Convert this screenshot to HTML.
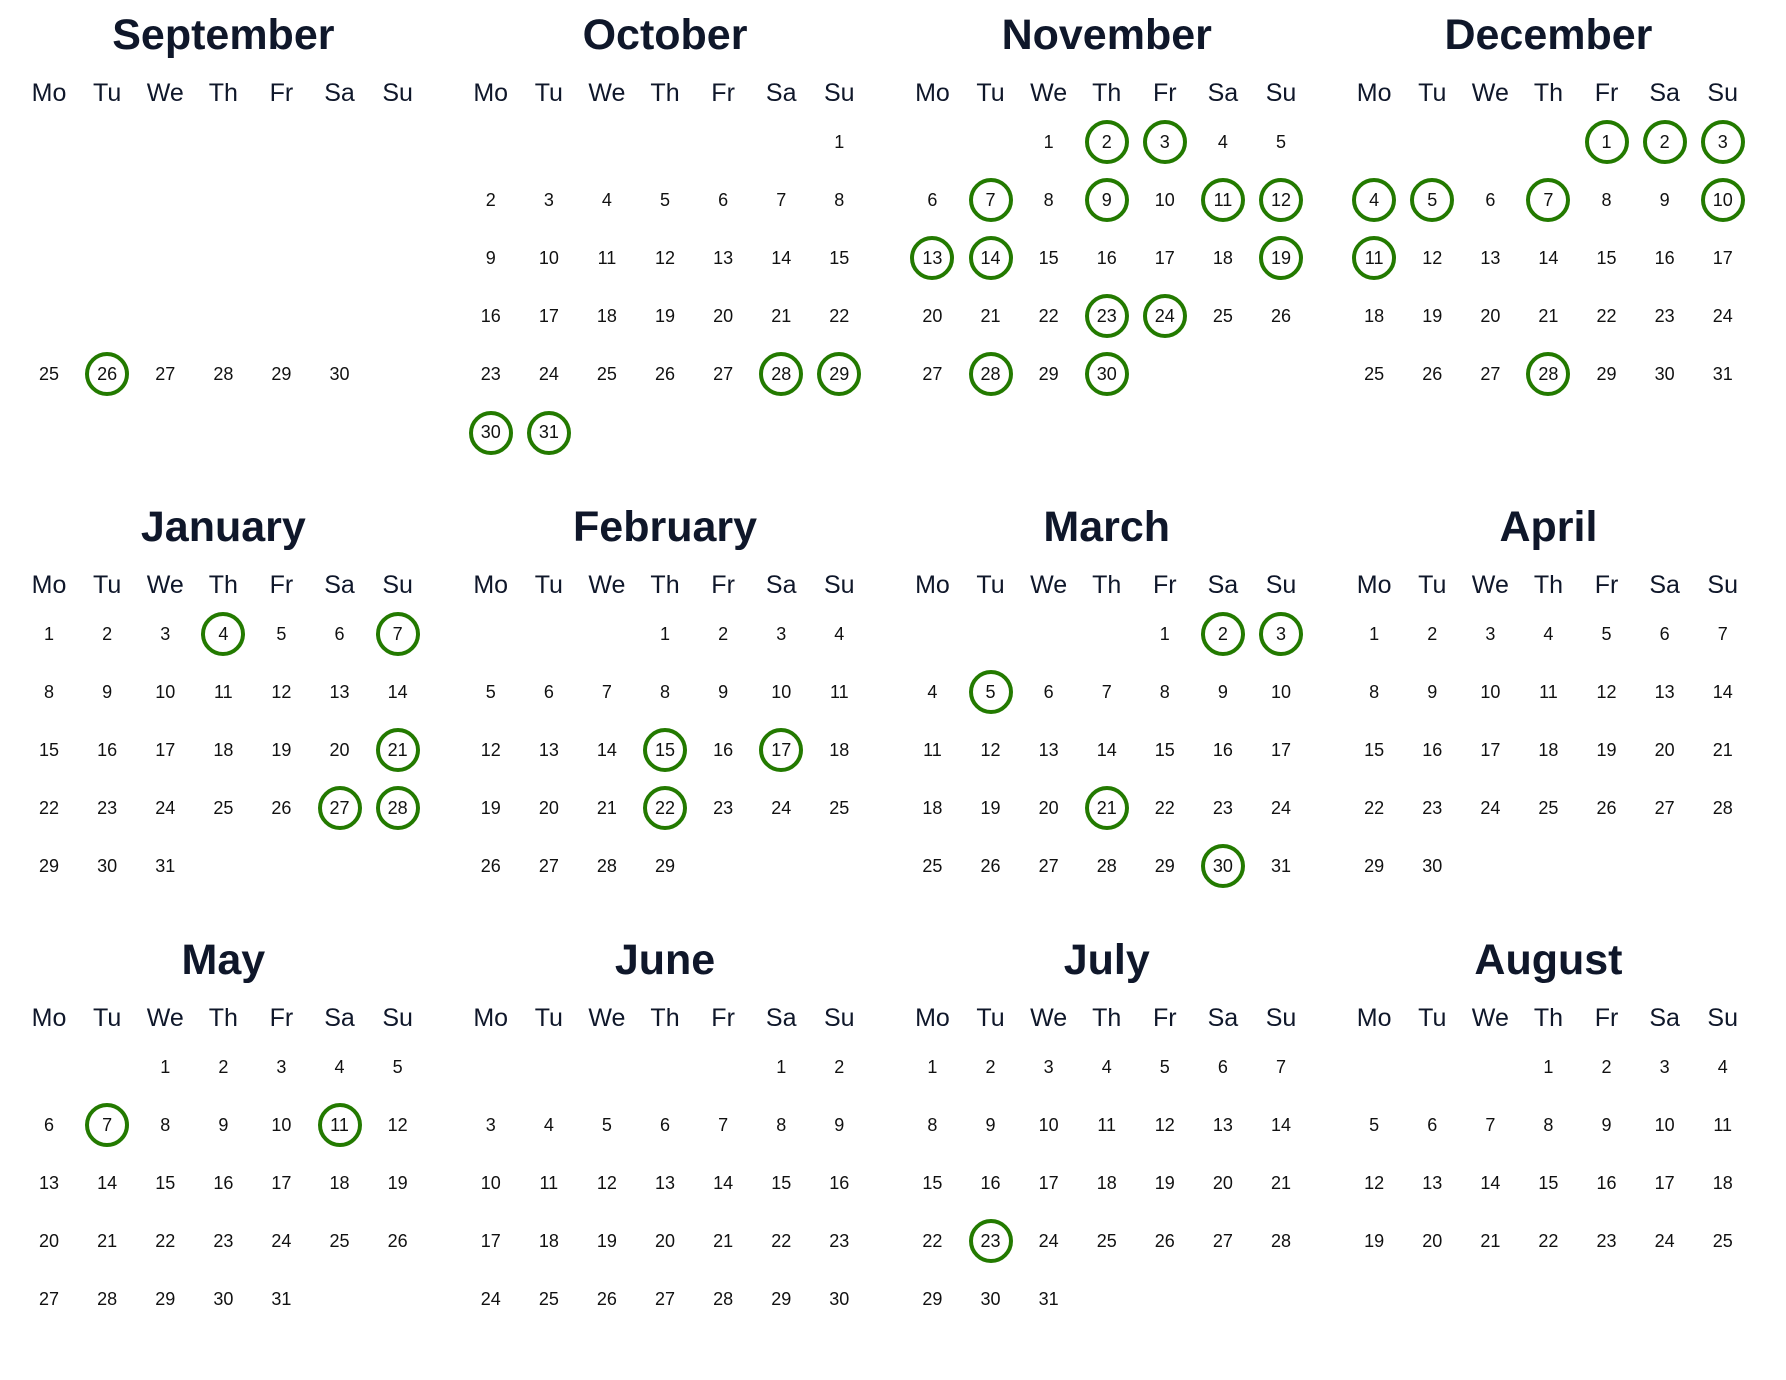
<!DOCTYPE html>
<html>
<head>
<meta charset="utf-8">
<style>
html,body{margin:0;padding:0;background:#fff;}
body{width:1786px;height:1380px;position:relative;overflow:hidden;font-family:"Liberation Sans",Arial,sans-serif;}
.m{position:absolute;width:406.7px;}
.t{height:70px;line-height:70px;font-size:43px;font-weight:bold;color:#0f172a;text-align:center;white-space:nowrap;}
.h{display:grid;grid-template-columns:repeat(7,58.1px);height:43px;line-height:47px;font-size:25px;color:#0f172a;text-align:center;overflow:visible;}
.g{display:grid;grid-template-columns:repeat(7,58.1px);grid-auto-rows:58.1px;font-size:18px;color:#111;text-align:center;line-height:58.1px;}
.g span{position:relative;display:block;}
.g span.c::before{content:"";position:absolute;left:50%;top:50%;width:36px;height:36px;margin-left:-22px;margin-top:-22px;border:4px solid #237a00;border-radius:50%;}
</style>
</head>
<body>

<!-- September -->
<div class="m" style="left:20px;top:0px;">
<div class="t">September</div>
<div class="h"><span>Mo</span><span>Tu</span><span>We</span><span>Th</span><span>Fr</span><span>Sa</span><span>Su</span></div>
<div class="g" style="margin-top:232.4px;">
<span>25</span><span class="c">26</span><span>27</span><span>28</span><span>29</span><span>30</span>
</div>
</div>

<!-- October -->
<div class="m" style="left:461.7px;top:0px;">
<div class="t">October</div>
<div class="h"><span>Mo</span><span>Tu</span><span>We</span><span>Th</span><span>Fr</span><span>Sa</span><span>Su</span></div>
<div class="g">
<span style="grid-column-start:7">1</span>
<span>2</span><span>3</span><span>4</span><span>5</span><span>6</span><span>7</span><span>8</span>
<span>9</span><span>10</span><span>11</span><span>12</span><span>13</span><span>14</span><span>15</span>
<span>16</span><span>17</span><span>18</span><span>19</span><span>20</span><span>21</span><span>22</span>
<span>23</span><span>24</span><span>25</span><span>26</span><span>27</span><span class="c">28</span><span class="c">29</span>
<span class="c">30</span><span class="c">31</span>
</div>
</div>

<!-- November -->
<div class="m" style="left:903.4px;top:0px;">
<div class="t">November</div>
<div class="h"><span>Mo</span><span>Tu</span><span>We</span><span>Th</span><span>Fr</span><span>Sa</span><span>Su</span></div>
<div class="g">
<span style="grid-column-start:3">1</span><span class="c">2</span><span class="c">3</span><span>4</span><span>5</span>
<span>6</span><span class="c">7</span><span>8</span><span class="c">9</span><span>10</span><span class="c">11</span><span class="c">12</span>
<span class="c">13</span><span class="c">14</span><span>15</span><span>16</span><span>17</span><span>18</span><span class="c">19</span>
<span>20</span><span>21</span><span>22</span><span class="c">23</span><span class="c">24</span><span>25</span><span>26</span>
<span>27</span><span class="c">28</span><span>29</span><span class="c">30</span>
</div>
</div>

<!-- December -->
<div class="m" style="left:1345.1px;top:0px;">
<div class="t">December</div>
<div class="h"><span>Mo</span><span>Tu</span><span>We</span><span>Th</span><span>Fr</span><span>Sa</span><span>Su</span></div>
<div class="g">
<span class="c" style="grid-column-start:5">1</span><span class="c">2</span><span class="c">3</span>
<span class="c">4</span><span class="c">5</span><span>6</span><span class="c">7</span><span>8</span><span>9</span><span class="c">10</span>
<span class="c">11</span><span>12</span><span>13</span><span>14</span><span>15</span><span>16</span><span>17</span>
<span>18</span><span>19</span><span>20</span><span>21</span><span>22</span><span>23</span><span>24</span>
<span>25</span><span>26</span><span>27</span><span class="c">28</span><span>29</span><span>30</span><span>31</span>
</div>
</div>

<!-- January -->
<div class="m" style="left:20px;top:491.7px;">
<div class="t">January</div>
<div class="h"><span>Mo</span><span>Tu</span><span>We</span><span>Th</span><span>Fr</span><span>Sa</span><span>Su</span></div>
<div class="g">
<span>1</span><span>2</span><span>3</span><span class="c">4</span><span>5</span><span>6</span><span class="c">7</span>
<span>8</span><span>9</span><span>10</span><span>11</span><span>12</span><span>13</span><span>14</span>
<span>15</span><span>16</span><span>17</span><span>18</span><span>19</span><span>20</span><span class="c">21</span>
<span>22</span><span>23</span><span>24</span><span>25</span><span>26</span><span class="c">27</span><span class="c">28</span>
<span>29</span><span>30</span><span>31</span>
</div>
</div>

<!-- February -->
<div class="m" style="left:461.7px;top:491.7px;">
<div class="t">February</div>
<div class="h"><span>Mo</span><span>Tu</span><span>We</span><span>Th</span><span>Fr</span><span>Sa</span><span>Su</span></div>
<div class="g">
<span style="grid-column-start:4">1</span><span>2</span><span>3</span><span>4</span>
<span>5</span><span>6</span><span>7</span><span>8</span><span>9</span><span>10</span><span>11</span>
<span>12</span><span>13</span><span>14</span><span class="c">15</span><span>16</span><span class="c">17</span><span>18</span>
<span>19</span><span>20</span><span>21</span><span class="c">22</span><span>23</span><span>24</span><span>25</span>
<span>26</span><span>27</span><span>28</span><span>29</span>
</div>
</div>

<!-- March -->
<div class="m" style="left:903.4px;top:491.7px;">
<div class="t">March</div>
<div class="h"><span>Mo</span><span>Tu</span><span>We</span><span>Th</span><span>Fr</span><span>Sa</span><span>Su</span></div>
<div class="g">
<span style="grid-column-start:5">1</span><span class="c">2</span><span class="c">3</span>
<span>4</span><span class="c">5</span><span>6</span><span>7</span><span>8</span><span>9</span><span>10</span>
<span>11</span><span>12</span><span>13</span><span>14</span><span>15</span><span>16</span><span>17</span>
<span>18</span><span>19</span><span>20</span><span class="c">21</span><span>22</span><span>23</span><span>24</span>
<span>25</span><span>26</span><span>27</span><span>28</span><span>29</span><span class="c">30</span><span>31</span>
</div>
</div>

<!-- April -->
<div class="m" style="left:1345.1px;top:491.7px;">
<div class="t">April</div>
<div class="h"><span>Mo</span><span>Tu</span><span>We</span><span>Th</span><span>Fr</span><span>Sa</span><span>Su</span></div>
<div class="g">
<span>1</span><span>2</span><span>3</span><span>4</span><span>5</span><span>6</span><span>7</span>
<span>8</span><span>9</span><span>10</span><span>11</span><span>12</span><span>13</span><span>14</span>
<span>15</span><span>16</span><span>17</span><span>18</span><span>19</span><span>20</span><span>21</span>
<span>22</span><span>23</span><span>24</span><span>25</span><span>26</span><span>27</span><span>28</span>
<span>29</span><span>30</span>
</div>
</div>

<!-- May -->
<div class="m" style="left:20px;top:925px;">
<div class="t">May</div>
<div class="h"><span>Mo</span><span>Tu</span><span>We</span><span>Th</span><span>Fr</span><span>Sa</span><span>Su</span></div>
<div class="g">
<span style="grid-column-start:3">1</span><span>2</span><span>3</span><span>4</span><span>5</span>
<span>6</span><span class="c">7</span><span>8</span><span>9</span><span>10</span><span class="c">11</span><span>12</span>
<span>13</span><span>14</span><span>15</span><span>16</span><span>17</span><span>18</span><span>19</span>
<span>20</span><span>21</span><span>22</span><span>23</span><span>24</span><span>25</span><span>26</span>
<span>27</span><span>28</span><span>29</span><span>30</span><span>31</span>
</div>
</div>

<!-- June -->
<div class="m" style="left:461.7px;top:925px;">
<div class="t">June</div>
<div class="h"><span>Mo</span><span>Tu</span><span>We</span><span>Th</span><span>Fr</span><span>Sa</span><span>Su</span></div>
<div class="g">
<span style="grid-column-start:6">1</span><span>2</span>
<span>3</span><span>4</span><span>5</span><span>6</span><span>7</span><span>8</span><span>9</span>
<span>10</span><span>11</span><span>12</span><span>13</span><span>14</span><span>15</span><span>16</span>
<span>17</span><span>18</span><span>19</span><span>20</span><span>21</span><span>22</span><span>23</span>
<span>24</span><span>25</span><span>26</span><span>27</span><span>28</span><span>29</span><span>30</span>
</div>
</div>

<!-- July -->
<div class="m" style="left:903.4px;top:925px;">
<div class="t">July</div>
<div class="h"><span>Mo</span><span>Tu</span><span>We</span><span>Th</span><span>Fr</span><span>Sa</span><span>Su</span></div>
<div class="g">
<span>1</span><span>2</span><span>3</span><span>4</span><span>5</span><span>6</span><span>7</span>
<span>8</span><span>9</span><span>10</span><span>11</span><span>12</span><span>13</span><span>14</span>
<span>15</span><span>16</span><span>17</span><span>18</span><span>19</span><span>20</span><span>21</span>
<span>22</span><span class="c">23</span><span>24</span><span>25</span><span>26</span><span>27</span><span>28</span>
<span>29</span><span>30</span><span>31</span>
</div>
</div>

<!-- August -->
<div class="m" style="left:1345.1px;top:925px;">
<div class="t">August</div>
<div class="h"><span>Mo</span><span>Tu</span><span>We</span><span>Th</span><span>Fr</span><span>Sa</span><span>Su</span></div>
<div class="g">
<span style="grid-column-start:4">1</span><span>2</span><span>3</span><span>4</span>
<span>5</span><span>6</span><span>7</span><span>8</span><span>9</span><span>10</span><span>11</span>
<span>12</span><span>13</span><span>14</span><span>15</span><span>16</span><span>17</span><span>18</span>
<span>19</span><span>20</span><span>21</span><span>22</span><span>23</span><span>24</span><span>25</span>
</div>
</div>

</body>
</html>
